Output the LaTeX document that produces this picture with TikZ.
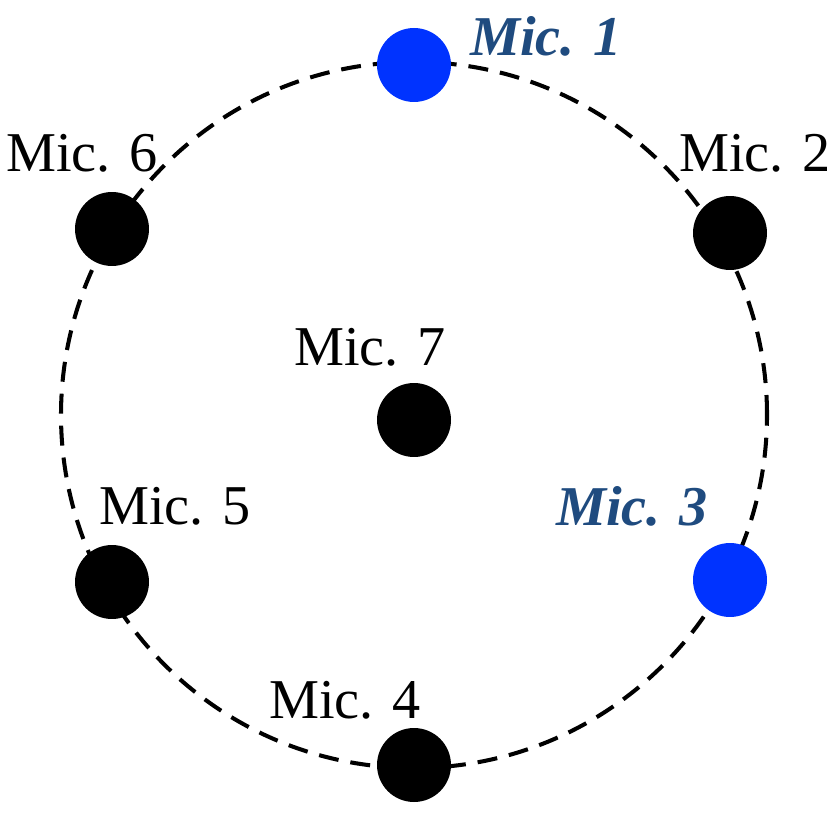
\documentclass[tikz,border=0pt]{standalone}
\usepackage{fontspec}
\setmainfont{Liberation Serif}
\definecolor{dotblue}{HTML}{0033FF}
\definecolor{txtblue}{HTML}{1F4B7F}
\begin{document}
\begin{tikzpicture}[x=0.02cm,y=-0.02cm,
  mic/.style={circle,fill=black,minimum size=1.48cm,inner sep=0pt},
  micb/.style={mic,fill=dotblue},
  lab/.style={font=\fontsize{32}{36}\selectfont,inner sep=0pt},
  labb/.style={lab,font=\fontsize{32}{36}\selectfont\bfseries\itshape,text=txtblue}]
\useasboundingbox (0,0) rectangle (830,830);
\draw[line width=2.3pt,dash pattern=on 0.4cm off 0.24cm] (414,415) circle[radius=353*0.02cm];
\node[micb] (m1) at (414,65) {};
\node[mic] (m2) at (730,233) {};
\node[micb] (m3) at (730,580) {};
\node[mic] (m4) at (414,765) {};
\node[mic] (m5) at (112,582) {};
\node[mic] (m6) at (112,229) {};
\node[mic] (m7) at (414,420) {};
\node[labb] (l1) at (546,36) {Mic. 1};
\node[lab] (l2) at (755,153) {Mic. 2};
\node[labb] (l3) at (632,506) {Mic. 3};
\node[lab] (l4) at (345,700) {Mic. 4};
\node[lab] (l5) at (175,506) {Mic. 5};
\node[lab] (l6) at (82,153) {Mic. 6};
\node[lab] (l7) at (370,347) {Mic. 7};
\end{tikzpicture}
\end{document}
